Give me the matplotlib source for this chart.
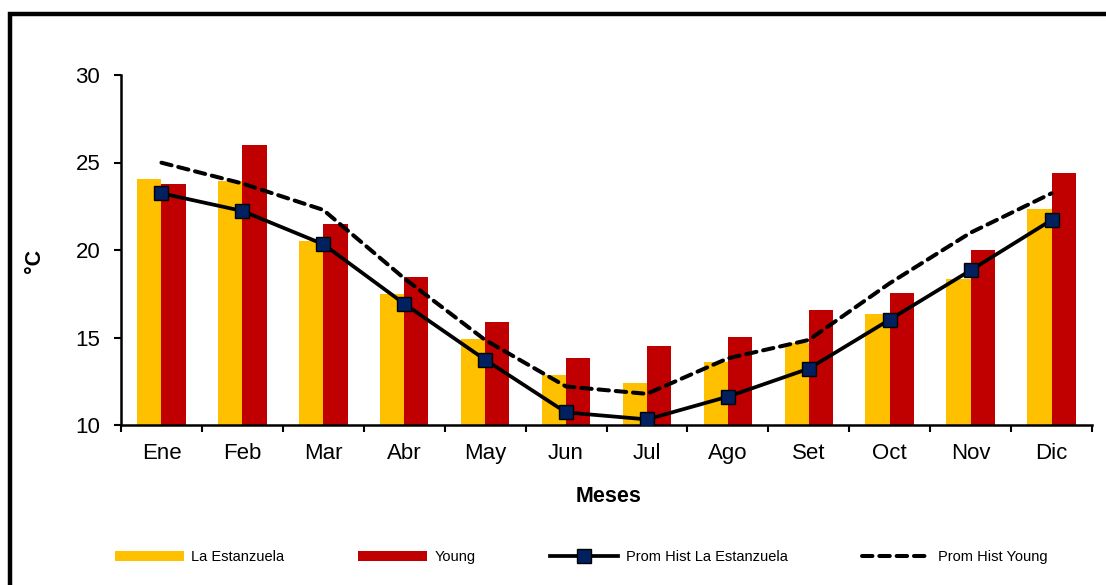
import numpy as np
import matplotlib.pyplot as plt
from matplotlib.patches import Rectangle

plt.rcParams['font.family'] = ['Liberation Sans', 'DejaVu Sans']

meses = ['Ene', 'Feb', 'Mar', 'Abr', 'May', 'Jun', 'Jul', 'Ago', 'Set', 'Oct', 'Nov', 'Dic']
estanzuela = [24.07, 23.92, 20.51, 17.5, 14.93, 12.86, 12.42, 13.62, 14.7, 16.34, 18.36, 22.34]
young = [23.77, 25.98, 21.46, 18.46, 15.89, 13.83, 14.5, 15.03, 16.57, 17.54, 20.0, 24.4]
hist_estanzuela = [23.24, 22.23, 20.33, 16.93, 13.73, 10.72, 10.32, 11.62, 13.22, 16.02, 18.84, 21.71]
hist_young = [24.99, 23.8, 22.29, 18.38, 14.86, 12.2, 11.78, 13.81, 14.86, 18.1, 20.99, 23.24]

x = np.arange(len(meses))
w = 0.3

fig = plt.figure(figsize=(11.06, 5.85), dpi=100)
ax = fig.add_axes([121/1106, 1-425/585, 971/1106, 350/585])

b1 = ax.bar(x - w/2, estanzuela, w, color='#FFC000', label='La Estanzuela', zorder=2)
b2 = ax.bar(x + w/2, young, w, color='#C00000', label='Young', zorder=2)
l1, = ax.plot(x, hist_estanzuela, color='black', lw=2.7, marker='s', ms=9.5,
              mfc='#002060', mec='black', mew=1, label='Prom Hist La Estanzuela', zorder=4)
l2, = ax.plot(x, hist_young, color='black', lw=2.9, ls=(0, (2.6, 1.7)),
              dash_capstyle='round', label='Prom Hist Young', zorder=3)

ax.set_xlim(-0.5, 11.5)
ax.set_ylim(10, 30)
ax.set_yticks([10, 15, 20, 25, 30])
ax.set_xticks(x)
ax.set_xticklabels(meses)
ax.set_xticks(np.arange(-0.5, 12, 1), minor=True)
ax.tick_params(axis='x', which='major', length=0, pad=13, labelsize=16)
ax.tick_params(axis='x', which='minor', length=5, width=1.5, direction='out')
ax.tick_params(axis='y', length=5, width=1.5, direction='out', pad=10, labelsize=16)

for s in ['top', 'right']:
    ax.spines[s].set_visible(False)
for s in ['left', 'bottom']:
    ax.spines[s].set_linewidth(1.8)

ax.set_xlabel('Meses', fontsize=15.5, fontweight='bold')
ax.xaxis.set_label_coords(0.5026, -0.175)
ax.set_ylabel('°C', fontsize=15.5, fontweight='bold')
ax.yaxis.set_label_coords(-0.078, 0.47)

fig.legend(handles=[b1, b2, l1, l2], loc='center left',
           bbox_to_anchor=(115/1106, 1-557/585), ncol=4,
           frameon=False, fontsize=10.5, handlelength=4.7, handletextpad=0.5,
           columnspacing=5.1, borderpad=0, borderaxespad=0, numpoints=1)

# marco exterior
fig.patches.append(Rectangle((9.5/1106, -0.2), 1.5, 1.2 - 14/585,
                             transform=fig.transFigure, fill=False,
                             edgecolor='black', linewidth=3.2))

fig.savefig('out.png', dpi=100)
